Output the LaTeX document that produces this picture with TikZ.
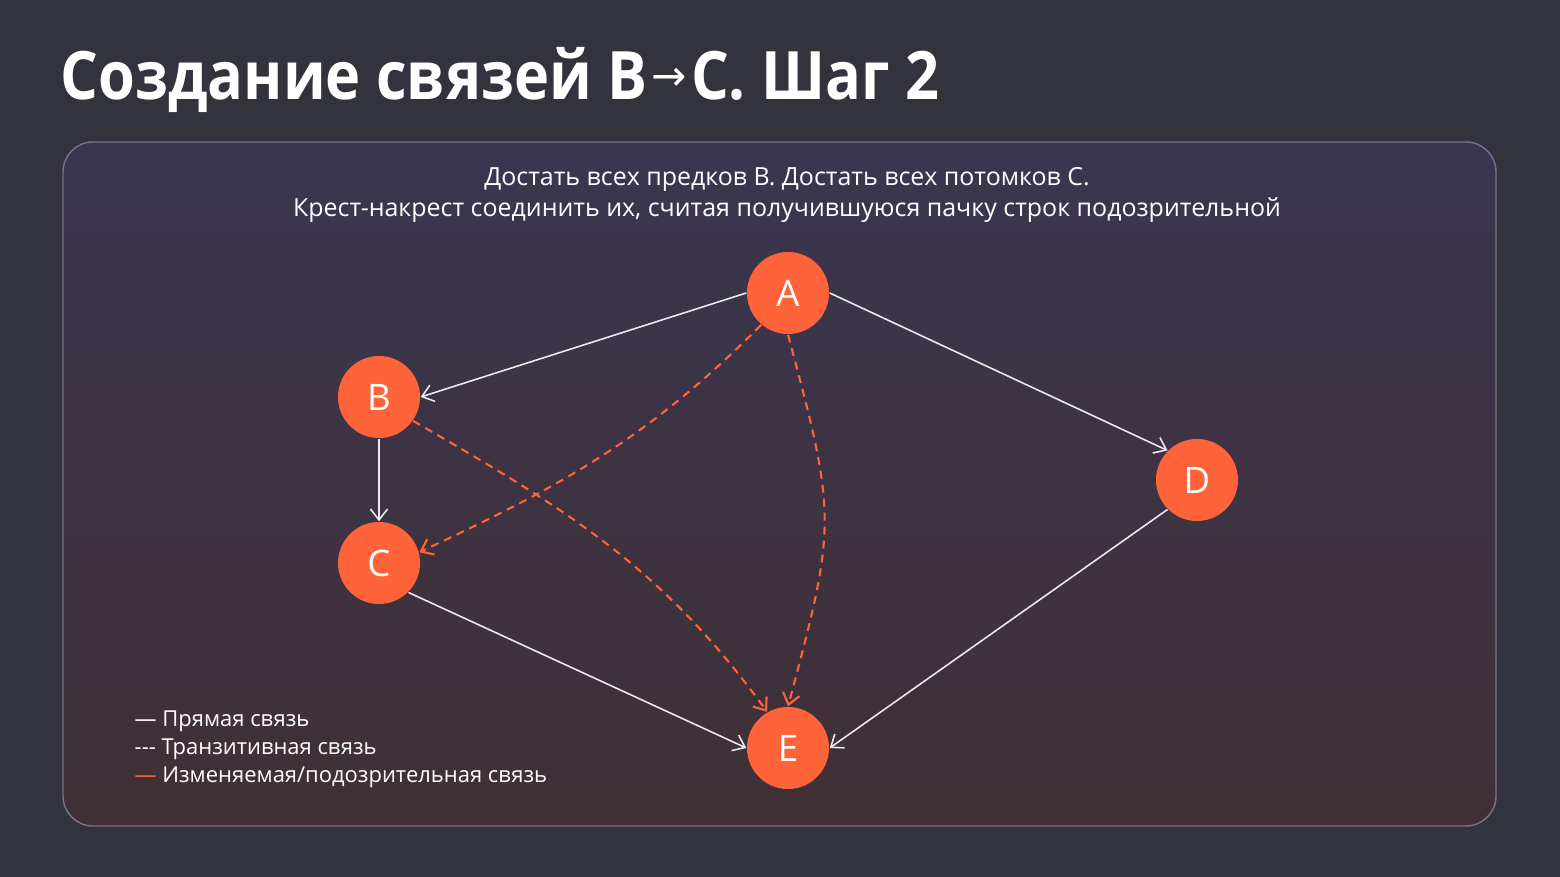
\documentclass[tikz,border=0pt]{standalone}
\usepackage{fontspec}
\setmainfont{Open Sans}
\newfontfamily\titlefont[FakeStretch=0.89]{Open Sans}
\newfontfamily\arrowfont{DejaVu Sans}
\usetikzlibrary{arrows.meta}
\definecolor{bg}{RGB}{51,51,61}
\definecolor{paneltop}{RGB}{58,54,80}
\definecolor{panelbot}{RGB}{64,48,53}
\definecolor{panelrim}{RGB}{120,115,140}
\definecolor{vertex}{RGB}{255,99,57}
\definecolor{link}{RGB}{235,235,240}

\tikzset{
  vtx/.style={circle,fill=vertex,minimum size=8.2mm,inner sep=0pt,text=white,font=\fontsize{10.4}{12}\selectfont},
  direct/.style={draw=link,line width=0.45pt,-{Straight Barb[length=1.1mm,width=1.7mm]}},
  suspect/.style={draw=vertex,line width=0.6pt,dash pattern=on 0.8mm off 0.6mm,-{Straight Barb[length=1.1mm,width=1.7mm]}},
  caption/.style={text=white,inner sep=0pt,font=\fontsize{7.1}{8.8}\selectfont},
  legendtxt/.style={anchor=base west,text=white,inner sep=0pt,font=\fontsize{6.25}{7.5}\selectfont}
}

\begin{document}
\begin{tikzpicture}[x=0.1mm,y=0.1mm]
\fill[bg] (0,0) rectangle (1560,877);
\shade[top color=paneltop,bottom color=panelbot,rounded corners=3mm] (63,51) rectangle (1496,735);
\draw[panelrim,line width=0.4pt,rounded corners=3mm] (63,51) rectangle (1496,735);

\node[anchor=base west,text=white,inner sep=0pt,font=\titlefont\bfseries\fontsize{19}{23}\selectfont] (title) at (60,777)
  {Создание связей B\hspace{0.4mm}\raisebox{0.9mm}{\arrowfont\mdseries\fontsize{12}{12}\selectfont →}\hspace{0.4mm}C. Шаг 2};
\node[caption,anchor=base] (line1) at (787,691) {Достать всех предков B. Достать всех потомков C.};
\node[caption,anchor=base] (line2) at (787,660) {Крест-накрест соединить их, считая получившуюся пачку строк подозрительной};

% vertices
\node[vtx] (A) at (788,584) {A};
\node[vtx] (B) at (379,480) {B};
\node[vtx] (C) at (379,314) {C};
\node[vtx] (D) at (1197,397) {D};
\node[vtx] (E) at (788,129) {E};

% direct links
\draw[direct] (A.west) -- (B.east);
\draw[direct] (A.east) -- (D.north west);
\draw[direct] (B.south) -- (C.north);
\draw[direct] (C.south east) -- (E.west);
\draw[direct] (D.south west) -- (E.east);
% suspect links
\draw[suspect] (A.230) to[out=225,in=25] (C.15);
\draw[suspect] (A.south) to[out=-75,in=75,looseness=1.3] (E.north);
\draw[suspect] (B.-35) to[out=-30,in=126] (E.120);

% legend
\node[legendtxt] (lgdirect) at (134,150) {— Прямая связь};
\node[legendtxt] (lgtrans) at (134,122) {-{}-{}- Транзитивная связь};
\node[legendtxt] (lgsuspect) at (134,94) {{\color{vertex}—} Изменяемая/подозрительная связь};
\end{tikzpicture}
\end{document}
